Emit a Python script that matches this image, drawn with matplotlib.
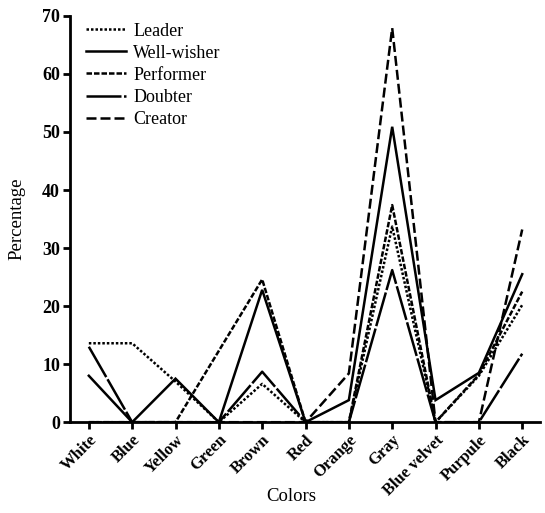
import matplotlib
matplotlib.use("Agg")
import matplotlib.pyplot as plt

categories = ["White", "Blue", "Yellow", "Green", "Brown", "Red", "Orange",
              "Gray", "Blue velvet", "Purpule", "Black"]
leader      = [13.6, 13.6, 7.0, 0, 6.6, 0, 0, 33.7, 0, 8.0, 20.2]
well_wisher = [8.0, 0, 7.5, 0, 22.8, 0, 3.8, 50.9, 3.8, 8.5, 25.5]
performer   = [0, 0, 0, 12.3, 24.6, 0, 0, 37.4, 0, 8.2, 22.5]
doubter     = [13.0, 0, 0, 0, 8.7, 0, 0, 26.2, 0, 0, 11.8]
creator     = [0, 0, 0, 0, 0, 0, 8.4, 67.9, 0, 0, 33.2]

series = [
    ("Leader", leader, (0, (1, 0.8))),
    ("Well-wisher", well_wisher, "-"),
    ("Performer", performer, (0, (2.2, 0.8))),
    ("Doubter", doubter, (0, (14, 1))),
    ("Creator", creator, (0, (4, 1.6))),
]

plt.rcParams['font.family'] = ['Liberation Serif', 'DejaVu Serif']

fig = plt.figure(figsize=(5.45, 5.13), dpi=100)
ax = fig.add_axes([0.128, 0.177, 0.862, 0.792])

x = list(range(len(categories)))
for name, vals, ls in series:
    ax.plot(x, vals, color="black", linestyle=ls, linewidth=1.8, label=name,
            solid_joinstyle="miter")

ax.set_xlim(-0.44, 10.4)
ax.set_ylim(0, 70)
ax.set_yticks(range(0, 71, 10))
ax.set_xticks(x)
ax.set_xticklabels(categories, rotation=45, ha="right", rotation_mode="anchor",
                   fontsize=12, fontweight="bold")
for lab in ax.get_yticklabels():
    lab.set_fontsize(13)
    lab.set_fontweight("bold")

for s in ["top", "right"]:
    ax.spines[s].set_visible(False)
for s in ["left", "bottom"]:
    ax.spines[s].set_linewidth(2)
ax.tick_params(axis="both", direction="out", length=5, width=2, pad=2)

ax.set_xlabel("Colors", fontsize=13.5)
ax.xaxis.set_label_coords(0.472, -0.163)
ax.set_ylabel("Percentage", fontsize=13.5)
ax.yaxis.set_label_coords(-0.095, 0.5)

leg = ax.legend(loc="upper left", bbox_to_anchor=(0.012, 1.01), frameon=False,
                handlelength=2.2, handletextpad=0.4, labelspacing=0.28,
                fontsize=13, borderaxespad=0.2)

fig.savefig("out.png", dpi=100)
